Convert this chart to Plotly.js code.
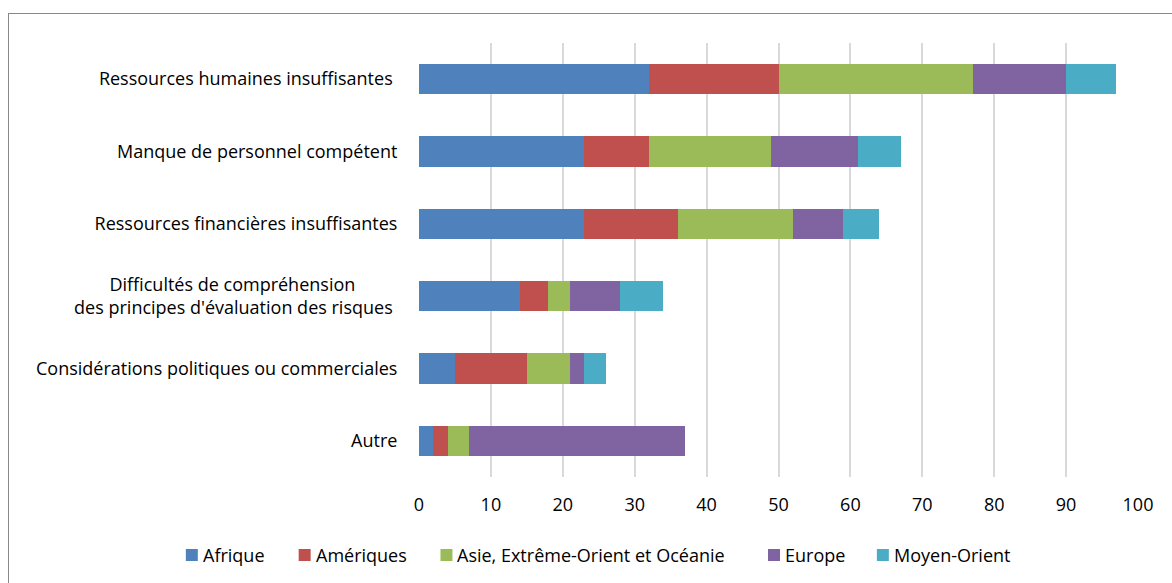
<!DOCTYPE html>
<html><head><meta charset="utf-8">
<script src="https://cdn.plot.ly/plotly-3.0.1.min.js"></script>
<style>
html,body{margin:0;padding:0;background:#fff;}
#wrap{position:relative;width:1172px;height:583px;overflow:hidden;}
#frame{position:absolute;left:8px;top:13px;width:1200px;height:600px;border:1px solid #888;box-sizing:border-box;}
#chart{position:absolute;left:0;top:0;width:1172px;height:583px;}
</style></head>
<body><div id="wrap"><div id="frame"></div><div id="chart"></div></div>
<script>
const categories = [
  "Ressources humaines insuffisantes\u00a0",
  "Manque de personnel compétent",
  "Ressources financières insuffisantes",
  "Difficultés de compréhension\u00a0\u00a0\u00a0\u00a0\u00a0\u00a0\u00a0\u00a0\u00a0<br>des principes d'évaluation des risques\u00a0",
  "Considérations politiques ou commerciales",
  "Autre"
];
const afrique    = [32, 23, 23, 14, 5, 2];
const ameriques  = [18, 9, 13, 4, 10, 2];
const asie       = [27, 17, 16, 3, 6, 3];
const europe     = [13, 12, 7, 7, 2, 30];
const moyenOrient= [7, 6, 5, 6, 3, 0];
const seriesNames = ["Afrique", "Amériques", "Asie, Extrême-Orient et Océanie", "Europe", "Moyen-Orient"];
const colors = ["#4F81BD", "#C0504D", "#9BBB59", "#8064A2", "#4BACC6"];
const seriesVals = [afrique, ameriques, asie, europe, moyenOrient];

const font = "'Open Sans', sans-serif";
const fs = 18;
const W = 1172, H = 583;
const M = {l: 418.5, r: 33.5, t: 43, b: 106};
const pw = W - M.l - M.r, ph = H - M.t - M.b;
const px2x = p => (p - M.l) / pw;
const px2y = p => (H - M.b - p) / ph;

const traces = seriesVals.map((v, i) => ({
  type: "bar", orientation: "h", name: seriesNames[i],
  x: v, y: categories, showlegend: false,
  marker: {color: colors[i], line: {width: 0}},
  hoverinfo: "x+name"
}));

// custom legend (square + label), positioned in pixels
const legendSquareLeft = [185, 298, 440, 768, 877];
const shapes = [], annotations = [];
seriesNames.forEach((n, i) => {
  const x0 = legendSquareLeft[i];
  shapes.push({type: "rect", xref: "paper", yref: "paper",
    x0: px2x(x0), x1: px2x(x0 + 12), y0: px2y(561), y1: px2y(549),
    fillcolor: colors[i], line: {width: 0}});
  annotations.push({xref: "paper", yref: "paper", x: px2x(x0 + 15), y: px2y(555),
    xanchor: "left", yanchor: "middle", showarrow: false, text: n,
    font: {family: font, size: fs, color: "#000"}});
});

const layout = {
  width: W, height: H,
  paper_bgcolor: "rgba(0,0,0,0)", plot_bgcolor: "rgba(0,0,0,0)",
  barmode: "stack", bargap: 0.585,
  margin: {l: M.l, r: M.r, t: M.t, b: M.b, pad: 0, autoexpand: false},
  font: {family: font, size: fs, color: "#000"},
  xaxis: {
    range: [0, 100], dtick: 10, tick0: 0, automargin: false,
    showgrid: true, gridcolor: "#d9d9d9", gridwidth: 2,
    zeroline: false, showline: false,
    ticks: "outside", ticklen: 11, tickcolor: "rgba(0,0,0,0)",
    tickfont: {family: font, size: fs, color: "#000"}
  },
  yaxis: {
    autorange: "reversed", type: "category", automargin: false,
    showgrid: false, zeroline: false, showline: false,
    ticks: "outside", ticklen: 17, tickcolor: "rgba(0,0,0,0)",
    tickfont: {family: font, size: fs, color: "#000"}
  },
  showlegend: false,
  shapes: shapes,
  annotations: annotations
};

Plotly.newPlot("chart", traces, layout, {displayModeBar: false, staticPlot: true});
</script></body></html>
